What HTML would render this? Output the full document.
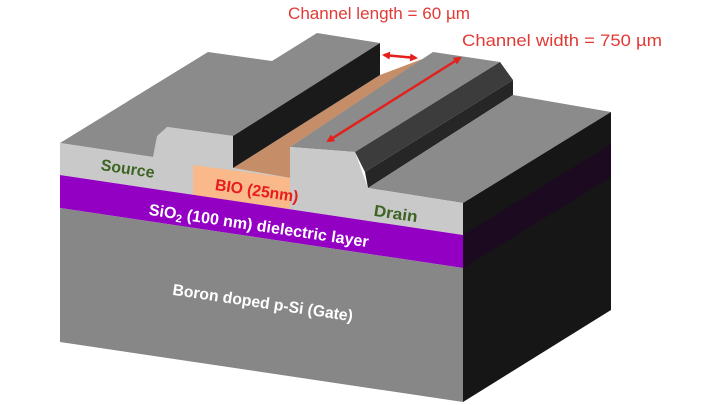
<!DOCTYPE html>
<html><head><meta charset="utf-8"><style>
html,body{margin:0;padding:0;background:#fff;width:720px;height:405px;overflow:hidden}
svg text{font-family:"Liberation Sans",sans-serif;font-weight:bold}
</style></head><body>
<svg width="720" height="405" viewBox="0 0 720 405" xmlns="http://www.w3.org/2000/svg">
<defs>
<marker id="ah" markerWidth="8" markerHeight="8" refX="6" refY="4" orient="auto-start-reverse" markerUnits="userSpaceOnUse">
<path d="M0,0 L8,4 L0,8 z" fill="#e4201c"/></marker>
</defs>
<polygon points="60,143 208,52 272,61 317,33 380,43 233,136 167,127 153,157" fill="#8b8b8b"/>
<polygon points="233,168 380,75 425,58 290,147 290,178" fill="#c58e68"/>
<polygon points="233,136 380,43 380,75 233,168" fill="#1a1a1a"/>
<polygon points="290,147 433,52 500,62 355,152" fill="#8b8b8b"/>
<polygon points="355,152 500,62 513,80 365,172" fill="#3c3c3c"/>
<polygon points="365,172 513,80 513,95 368,188" fill="#262626"/>
<polygon points="368,188 513,95 611,112 463,203" fill="#8b8b8b"/>
<polygon points="463,203 611,112 611,310 463,402" fill="#161616"/>
<polygon points="463,235 611,144 611,177 463,268" fill="#1c0a20"/>
<polygon points="60,143 153,157 157,136 167,127 233,136 233,168 290,178 290,147 355,152 368,188 463,203 463,235 60,175" fill="#c9c9c9"/>
<polygon points="193,165 290,178 290,209 193,195" fill="#f9b98a"/>
<polygon points="60,175 463,235 463,268 60,208" fill="#9300c4"/>
<polygon points="60,208 463,268 463,402 60,342" fill="#878787"/>
<line x1="384" y1="55" x2="416" y2="58" stroke="#e4201c" stroke-width="2.5" marker-start="url(#ah)" marker-end="url(#ah)"/>
<line x1="328" y1="141" x2="460" y2="58" stroke="#e4201c" stroke-width="2.5" marker-start="url(#ah)" marker-end="url(#ah)"/>
<text x="288" y="19" font-size="17" fill="#e23a36" style="font-weight:normal" textLength="182" lengthAdjust="spacingAndGlyphs">Channel length = 60 µm</text>
<text x="462" y="46" font-size="17" fill="#e23a36" style="font-weight:normal" textLength="200" lengthAdjust="spacingAndGlyphs">Channel width = 750 µm</text>
<text transform="translate(127,174) rotate(8.4)" text-anchor="middle" font-size="16" fill="#3d6423" textLength="54" lengthAdjust="spacingAndGlyphs">Source</text>
<text transform="translate(256,196) rotate(8.4)" text-anchor="middle" font-size="16" fill="#e81c1c" textLength="84" lengthAdjust="spacingAndGlyphs">BIO (25nm)</text>
<text transform="translate(258,231) rotate(8.4)" text-anchor="middle" font-size="16" fill="#fff" textLength="222" lengthAdjust="spacingAndGlyphs">SiO<tspan font-size="11" dy="3">2</tspan><tspan dy="-3">  (100 nm) dielectric layer</tspan></text>
<text transform="translate(395,219) rotate(8.4)" text-anchor="middle" font-size="16" fill="#3d6423" textLength="44" lengthAdjust="spacingAndGlyphs">Drain</text>
<text transform="translate(262,308) rotate(8.4)" text-anchor="middle" font-size="16" fill="#fff" textLength="182" lengthAdjust="spacingAndGlyphs">Boron doped p-Si (Gate)</text>
</svg>
</body></html>
